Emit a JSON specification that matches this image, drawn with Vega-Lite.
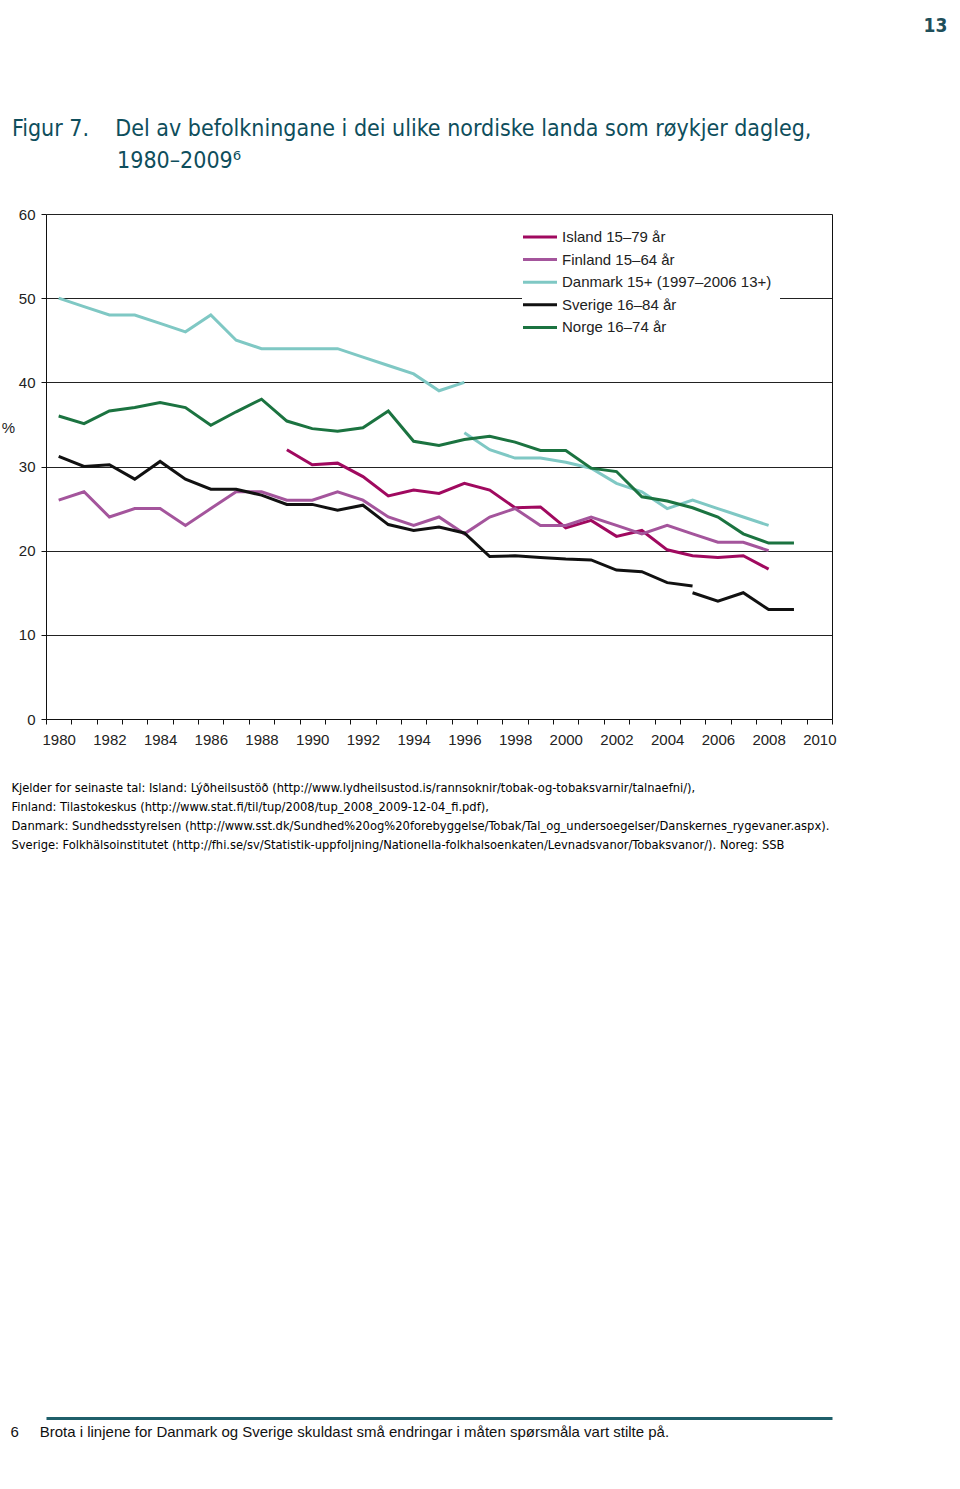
{
  "$schema": "https://vega.github.io/schema/vega-lite/v6.json",
  "autosize": {"type": "none"},
  "width": 786,
  "height": 505,
  "padding": {"left": 46, "top": 214, "right": 128, "bottom": 770},
  "background": "white",
  "title": {
    "text": ["Figur 7.\u00a0\u00a0\u00a0\u00a0Del av befolkningane i dei ulike nordiske landa som røykjer dagleg,", "\u200b\u00a0\u00a0\u00a0\u00a0\u00a0\u00a0\u00a0\u00a0\u00a0\u00a0\u00a0\u00a0\u00a0\u00a0\u00a0\u00a01980–2009⁶"],
    "anchor": "start",
    "frame": "group",
    "font": "DejaVu Sans Condensed, Roboto",
    "fontSize": 23,
    "fontWeight": "normal",
    "color": "#0e4e5c",
    "lineHeight": 32,
    "dx": -34,
    "dy": 157,
    "offset": 0
  },
  "datasets": {
    "smoking": [
      {"country": "Island 15–79 år", "part": "a", "year": 1989, "value": 32.0},
      {"country": "Island 15–79 år", "part": "a", "year": 1990, "value": 30.2},
      {"country": "Island 15–79 år", "part": "a", "year": 1991, "value": 30.4},
      {"country": "Island 15–79 år", "part": "a", "year": 1992, "value": 28.8},
      {"country": "Island 15–79 år", "part": "a", "year": 1993, "value": 26.5},
      {"country": "Island 15–79 år", "part": "a", "year": 1994, "value": 27.2},
      {"country": "Island 15–79 år", "part": "a", "year": 1995, "value": 26.8},
      {"country": "Island 15–79 år", "part": "a", "year": 1996, "value": 28.0},
      {"country": "Island 15–79 år", "part": "a", "year": 1997, "value": 27.2},
      {"country": "Island 15–79 år", "part": "a", "year": 1998, "value": 25.1},
      {"country": "Island 15–79 år", "part": "a", "year": 1999, "value": 25.2},
      {"country": "Island 15–79 år", "part": "a", "year": 2000, "value": 22.7},
      {"country": "Island 15–79 år", "part": "a", "year": 2001, "value": 23.6},
      {"country": "Island 15–79 år", "part": "a", "year": 2002, "value": 21.7},
      {"country": "Island 15–79 år", "part": "a", "year": 2003, "value": 22.4},
      {"country": "Island 15–79 år", "part": "a", "year": 2004, "value": 20.1},
      {"country": "Island 15–79 år", "part": "a", "year": 2005, "value": 19.4},
      {"country": "Island 15–79 år", "part": "a", "year": 2006, "value": 19.2},
      {"country": "Island 15–79 år", "part": "a", "year": 2007, "value": 19.4},
      {"country": "Island 15–79 år", "part": "a", "year": 2008, "value": 17.8},

      {"country": "Finland 15–64 år", "part": "a", "year": 1980, "value": 26},
      {"country": "Finland 15–64 år", "part": "a", "year": 1981, "value": 27},
      {"country": "Finland 15–64 år", "part": "a", "year": 1982, "value": 24},
      {"country": "Finland 15–64 år", "part": "a", "year": 1983, "value": 25},
      {"country": "Finland 15–64 år", "part": "a", "year": 1984, "value": 25},
      {"country": "Finland 15–64 år", "part": "a", "year": 1985, "value": 23},
      {"country": "Finland 15–64 år", "part": "a", "year": 1986, "value": 25},
      {"country": "Finland 15–64 år", "part": "a", "year": 1987, "value": 27},
      {"country": "Finland 15–64 år", "part": "a", "year": 1988, "value": 27},
      {"country": "Finland 15–64 år", "part": "a", "year": 1989, "value": 26},
      {"country": "Finland 15–64 år", "part": "a", "year": 1990, "value": 26},
      {"country": "Finland 15–64 år", "part": "a", "year": 1991, "value": 27},
      {"country": "Finland 15–64 år", "part": "a", "year": 1992, "value": 26},
      {"country": "Finland 15–64 år", "part": "a", "year": 1993, "value": 24},
      {"country": "Finland 15–64 år", "part": "a", "year": 1994, "value": 23},
      {"country": "Finland 15–64 år", "part": "a", "year": 1995, "value": 24},
      {"country": "Finland 15–64 år", "part": "a", "year": 1996, "value": 22},
      {"country": "Finland 15–64 år", "part": "a", "year": 1997, "value": 24},
      {"country": "Finland 15–64 år", "part": "a", "year": 1998, "value": 25},
      {"country": "Finland 15–64 år", "part": "a", "year": 1999, "value": 23},
      {"country": "Finland 15–64 år", "part": "a", "year": 2000, "value": 23},
      {"country": "Finland 15–64 år", "part": "a", "year": 2001, "value": 24},
      {"country": "Finland 15–64 år", "part": "a", "year": 2002, "value": 23},
      {"country": "Finland 15–64 år", "part": "a", "year": 2003, "value": 22},
      {"country": "Finland 15–64 år", "part": "a", "year": 2004, "value": 23},
      {"country": "Finland 15–64 år", "part": "a", "year": 2005, "value": 22},
      {"country": "Finland 15–64 år", "part": "a", "year": 2006, "value": 21},
      {"country": "Finland 15–64 år", "part": "a", "year": 2007, "value": 21},
      {"country": "Finland 15–64 år", "part": "a", "year": 2008, "value": 20},

      {"country": "Danmark 15+ (1997–2006 13+)", "part": "a", "year": 1980, "value": 50},
      {"country": "Danmark 15+ (1997–2006 13+)", "part": "a", "year": 1981, "value": 49},
      {"country": "Danmark 15+ (1997–2006 13+)", "part": "a", "year": 1982, "value": 48},
      {"country": "Danmark 15+ (1997–2006 13+)", "part": "a", "year": 1983, "value": 48},
      {"country": "Danmark 15+ (1997–2006 13+)", "part": "a", "year": 1984, "value": 47},
      {"country": "Danmark 15+ (1997–2006 13+)", "part": "a", "year": 1985, "value": 46},
      {"country": "Danmark 15+ (1997–2006 13+)", "part": "a", "year": 1986, "value": 48},
      {"country": "Danmark 15+ (1997–2006 13+)", "part": "a", "year": 1987, "value": 45},
      {"country": "Danmark 15+ (1997–2006 13+)", "part": "a", "year": 1988, "value": 44},
      {"country": "Danmark 15+ (1997–2006 13+)", "part": "a", "year": 1989, "value": 44},
      {"country": "Danmark 15+ (1997–2006 13+)", "part": "a", "year": 1990, "value": 44},
      {"country": "Danmark 15+ (1997–2006 13+)", "part": "a", "year": 1991, "value": 44},
      {"country": "Danmark 15+ (1997–2006 13+)", "part": "a", "year": 1992, "value": 43},
      {"country": "Danmark 15+ (1997–2006 13+)", "part": "a", "year": 1993, "value": 42},
      {"country": "Danmark 15+ (1997–2006 13+)", "part": "a", "year": 1994, "value": 41},
      {"country": "Danmark 15+ (1997–2006 13+)", "part": "a", "year": 1995, "value": 39},
      {"country": "Danmark 15+ (1997–2006 13+)", "part": "a", "year": 1996, "value": 40},
      {"country": "Danmark 15+ (1997–2006 13+)", "part": "b", "year": 1996, "value": 34},
      {"country": "Danmark 15+ (1997–2006 13+)", "part": "b", "year": 1997, "value": 32},
      {"country": "Danmark 15+ (1997–2006 13+)", "part": "b", "year": 1998, "value": 31},
      {"country": "Danmark 15+ (1997–2006 13+)", "part": "b", "year": 1999, "value": 31},
      {"country": "Danmark 15+ (1997–2006 13+)", "part": "b", "year": 2000, "value": 30.5},
      {"country": "Danmark 15+ (1997–2006 13+)", "part": "b", "year": 2001, "value": 29.8},
      {"country": "Danmark 15+ (1997–2006 13+)", "part": "b", "year": 2002, "value": 28},
      {"country": "Danmark 15+ (1997–2006 13+)", "part": "b", "year": 2003, "value": 27},
      {"country": "Danmark 15+ (1997–2006 13+)", "part": "b", "year": 2004, "value": 25},
      {"country": "Danmark 15+ (1997–2006 13+)", "part": "b", "year": 2005, "value": 26},
      {"country": "Danmark 15+ (1997–2006 13+)", "part": "b", "year": 2006, "value": 25},
      {"country": "Danmark 15+ (1997–2006 13+)", "part": "b", "year": 2007, "value": 24},
      {"country": "Danmark 15+ (1997–2006 13+)", "part": "b", "year": 2008, "value": 23},

      {"country": "Sverige 16–84 år", "part": "a", "year": 1980, "value": 31.2},
      {"country": "Sverige 16–84 år", "part": "a", "year": 1981, "value": 30.0},
      {"country": "Sverige 16–84 år", "part": "a", "year": 1982, "value": 30.2},
      {"country": "Sverige 16–84 år", "part": "a", "year": 1983, "value": 28.5},
      {"country": "Sverige 16–84 år", "part": "a", "year": 1984, "value": 30.6},
      {"country": "Sverige 16–84 år", "part": "a", "year": 1985, "value": 28.5},
      {"country": "Sverige 16–84 år", "part": "a", "year": 1986, "value": 27.3},
      {"country": "Sverige 16–84 år", "part": "a", "year": 1987, "value": 27.3},
      {"country": "Sverige 16–84 år", "part": "a", "year": 1988, "value": 26.6},
      {"country": "Sverige 16–84 år", "part": "a", "year": 1989, "value": 25.5},
      {"country": "Sverige 16–84 år", "part": "a", "year": 1990, "value": 25.5},
      {"country": "Sverige 16–84 år", "part": "a", "year": 1991, "value": 24.8},
      {"country": "Sverige 16–84 år", "part": "a", "year": 1992, "value": 25.4},
      {"country": "Sverige 16–84 år", "part": "a", "year": 1993, "value": 23.1},
      {"country": "Sverige 16–84 år", "part": "a", "year": 1994, "value": 22.4},
      {"country": "Sverige 16–84 år", "part": "a", "year": 1995, "value": 22.8},
      {"country": "Sverige 16–84 år", "part": "a", "year": 1996, "value": 22.1},
      {"country": "Sverige 16–84 år", "part": "a", "year": 1997, "value": 19.3},
      {"country": "Sverige 16–84 år", "part": "a", "year": 1998, "value": 19.4},
      {"country": "Sverige 16–84 år", "part": "a", "year": 1999, "value": 19.2},
      {"country": "Sverige 16–84 år", "part": "a", "year": 2000, "value": 19.0},
      {"country": "Sverige 16–84 år", "part": "a", "year": 2001, "value": 18.9},
      {"country": "Sverige 16–84 år", "part": "a", "year": 2002, "value": 17.7},
      {"country": "Sverige 16–84 år", "part": "a", "year": 2003, "value": 17.5},
      {"country": "Sverige 16–84 år", "part": "a", "year": 2004, "value": 16.2},
      {"country": "Sverige 16–84 år", "part": "a", "year": 2005, "value": 15.8},
      {"country": "Sverige 16–84 år", "part": "b", "year": 2005, "value": 15.0},
      {"country": "Sverige 16–84 år", "part": "b", "year": 2006, "value": 14.0},
      {"country": "Sverige 16–84 år", "part": "b", "year": 2007, "value": 15.0},
      {"country": "Sverige 16–84 år", "part": "b", "year": 2008, "value": 13.0},
      {"country": "Sverige 16–84 år", "part": "b", "year": 2009, "value": 13.0},

      {"country": "Norge 16–74 år", "part": "a", "year": 1980, "value": 36.0},
      {"country": "Norge 16–74 år", "part": "a", "year": 1981, "value": 35.1},
      {"country": "Norge 16–74 år", "part": "a", "year": 1982, "value": 36.6},
      {"country": "Norge 16–74 år", "part": "a", "year": 1983, "value": 37.0},
      {"country": "Norge 16–74 år", "part": "a", "year": 1984, "value": 37.6},
      {"country": "Norge 16–74 år", "part": "a", "year": 1985, "value": 37.0},
      {"country": "Norge 16–74 år", "part": "a", "year": 1986, "value": 34.9},
      {"country": "Norge 16–74 år", "part": "a", "year": 1987, "value": 36.5},
      {"country": "Norge 16–74 år", "part": "a", "year": 1988, "value": 38.0},
      {"country": "Norge 16–74 år", "part": "a", "year": 1989, "value": 35.4},
      {"country": "Norge 16–74 år", "part": "a", "year": 1990, "value": 34.5},
      {"country": "Norge 16–74 år", "part": "a", "year": 1991, "value": 34.2},
      {"country": "Norge 16–74 år", "part": "a", "year": 1992, "value": 34.6},
      {"country": "Norge 16–74 år", "part": "a", "year": 1993, "value": 36.6},
      {"country": "Norge 16–74 år", "part": "a", "year": 1994, "value": 33.0},
      {"country": "Norge 16–74 år", "part": "a", "year": 1995, "value": 32.5},
      {"country": "Norge 16–74 år", "part": "a", "year": 1996, "value": 33.2},
      {"country": "Norge 16–74 år", "part": "a", "year": 1997, "value": 33.6},
      {"country": "Norge 16–74 år", "part": "a", "year": 1998, "value": 32.9},
      {"country": "Norge 16–74 år", "part": "a", "year": 1999, "value": 31.9},
      {"country": "Norge 16–74 år", "part": "a", "year": 2000, "value": 31.9},
      {"country": "Norge 16–74 år", "part": "a", "year": 2001, "value": 29.8},
      {"country": "Norge 16–74 år", "part": "a", "year": 2002, "value": 29.4},
      {"country": "Norge 16–74 år", "part": "a", "year": 2003, "value": 26.4},
      {"country": "Norge 16–74 år", "part": "a", "year": 2004, "value": 25.9},
      {"country": "Norge 16–74 år", "part": "a", "year": 2005, "value": 25.1},
      {"country": "Norge 16–74 år", "part": "a", "year": 2006, "value": 24.0},
      {"country": "Norge 16–74 år", "part": "a", "year": 2007, "value": 22.0},
      {"country": "Norge 16–74 år", "part": "a", "year": 2008, "value": 20.9},
      {"country": "Norge 16–74 år", "part": "a", "year": 2009, "value": 20.9}
    ]
  },
  "data": {"name": "smoking"},
  "layer": [
    {
      "mark": {"type": "line", "strokeWidth": 3, "strokeJoin": "miter", "strokeCap": "butt"},
      "encoding": {
        "x": {
          "field": "year",
          "type": "ordinal",
          "bandPosition": 0.5,
          "scale": {"type": "band", "paddingInner": 0, "paddingOuter": 0,
            "domain": [1980,1981,1982,1983,1984,1985,1986,1987,1988,1989,1990,1991,1992,1993,1994,1995,1996,1997,1998,1999,2000,2001,2002,2003,2004,2005,2006,2007,2008,2009,2010]},
          "axis": {
            "orient": "bottom",
            "labelExpr": "datum.value % 2 === 0 ? datum.label : ''",
            "labelAngle": 0,
            "tickBand": "extent",
            "ticks": true,
            "tickSize": 5,
            "tickColor": "#111",
            "domainColor": "#111",
            "grid": false,
            "labelFont": "Liberation Sans",
            "labelFontSize": 15,
            "labelColor": "#222",
            "labelPadding": 8,
            "title": [
              "Kjelder for seinaste tal: Island: Lýðheilsustöð (http://www.lydheilsustod.is/rannsoknir/tobak-og-tobaksvarnir/talnaefni/),",
              "Finland: Tilastokeskus (http://www.stat.fi/til/tup/2008/tup_2008_2009-12-04_fi.pdf),",
              "Danmark: Sundhedsstyrelsen (http://www.sst.dk/Sundhed%20og%20forebyggelse/Tobak/Tal_og_undersoegelser/Danskernes_rygevaner.aspx).",
              "Sverige: Folkhälsoinstitutet (http://fhi.se/sv/Statistik-uppfoljning/Nationella-folkhalsoenkaten/Levnadsvanor/Tobaksvanor/). Noreg: SSB"
            ],
            "titleFont": "DejaVu Sans Condensed, Roboto",
            "titleFontSize": 12.8,
            "titleFontWeight": "normal",
            "titleColor": "#000",
            "titleAnchor": "start",
            "titleAlign": "left",
            "titleBaseline": "top",
            "titleLineHeight": 19,
            "titleX": -35,
            "titleY": 62
          }
        },
        "y": {
          "field": "value",
          "type": "quantitative",
          "scale": {"domain": [0, 60], "nice": false, "zero": true},
          "axis": {
            "orient": "left",
            "values": [0, 10, 20, 30, 40, 50, 60],
            "grid": true,
            "gridColor": "#222",
            "gridWidth": 1,
            "gridOpacity": 1,
            "domainColor": "#111",
            "tickColor": "#111",
            "tickSize": 5,
            "labelFont": "Liberation Sans",
            "labelFontSize": 15,
            "labelColor": "#222",
            "labelPadding": 6,
            "title": "%",
            "titleAngle": 0,
            "titleFont": "Liberation Sans",
            "titleFontSize": 15,
            "titleFontWeight": "normal",
            "titleColor": "#222",
            "titleAlign": "center",
            "titleBaseline": "middle",
            "titleX": -38,
            "titleY": 213
          }
        },
        "color": {
          "field": "country",
          "type": "nominal",
          "scale": {
            "domain": ["Island 15–79 år", "Finland 15–64 år", "Danmark 15+ (1997–2006 13+)", "Sverige 16–84 år", "Norge 16–74 år"],
            "range": ["#a0095f", "#a4559c", "#7fc8c4", "#111111", "#1b7340"]
          },
          "legend": {
            "title": null,
            "orient": "none",
            "legendX": 476,
            "legendY": 5,
            "symbolType": "M-2,0L2,0",
            "symbolSize": 289,
            "symbolStrokeWidth": 3,
            "labelFont": "Liberation Sans",
            "labelFontSize": 15,
            "labelColor": "#222",
            "labelOffset": 12,
            "labelLimit": 400,
            "rowPadding": 4.6,
            "padding": 8,
            "fillColor": "white",
            "strokeColor": null
          }
        },
        "detail": {"field": "part", "type": "nominal"}
      }
    },
    {
      "mark": {"type": "point", "opacity": 0},
      "encoding": {
        "x": {
          "field": "year",
          "type": "quantitative",
          "scale": {"domain": [1980, 2010]},
          "axis": {
            "orient": "bottom",
            "offset": 699,
            "labels": false,
            "ticks": false,
            "grid": false,
            "domainColor": "#1f5f6a",
            "domainWidth": 3,
            "title": "6\u00a0\u00a0\u00a0\u00a0\u00a0Brota i linjene for Danmark og Sverige skuldast små endringar i måten spørsmåla vart stilte på.",
            "titleFont": "Liberation Sans",
            "titleFontSize": 15,
            "titleFontWeight": "normal",
            "titleColor": "#111",
            "titleAnchor": "start",
            "titleAlign": "left",
            "titleBaseline": "middle",
            "titleX": -36,
            "titleY": 13
          }
        },
        "y": {
          "field": "value",
          "type": "quantitative",
          "scale": {"domain": [0, 60], "nice": false},
          "axis": {
            "orient": "right",
            "labels": false,
            "ticks": false,
            "grid": false,
            "domainColor": "#111",
            "title": "13",
            "titleAngle": 0,
            "titleFont": "DejaVu Sans Condensed, Roboto",
            "titleFontSize": 19,
            "titleFontWeight": "bold",
            "titleColor": "#1f4f5a",
            "titleAlign": "center",
            "titleBaseline": "middle",
            "titleX": 103,
            "titleY": -189
          }
        }
      }
    }
  ],
  "resolve": {
    "scale": {"x": "independent", "y": "independent"},
    "axis": {"x": "independent", "y": "independent"}
  },
  "config": {
    "view": {"stroke": null}
  }
}
